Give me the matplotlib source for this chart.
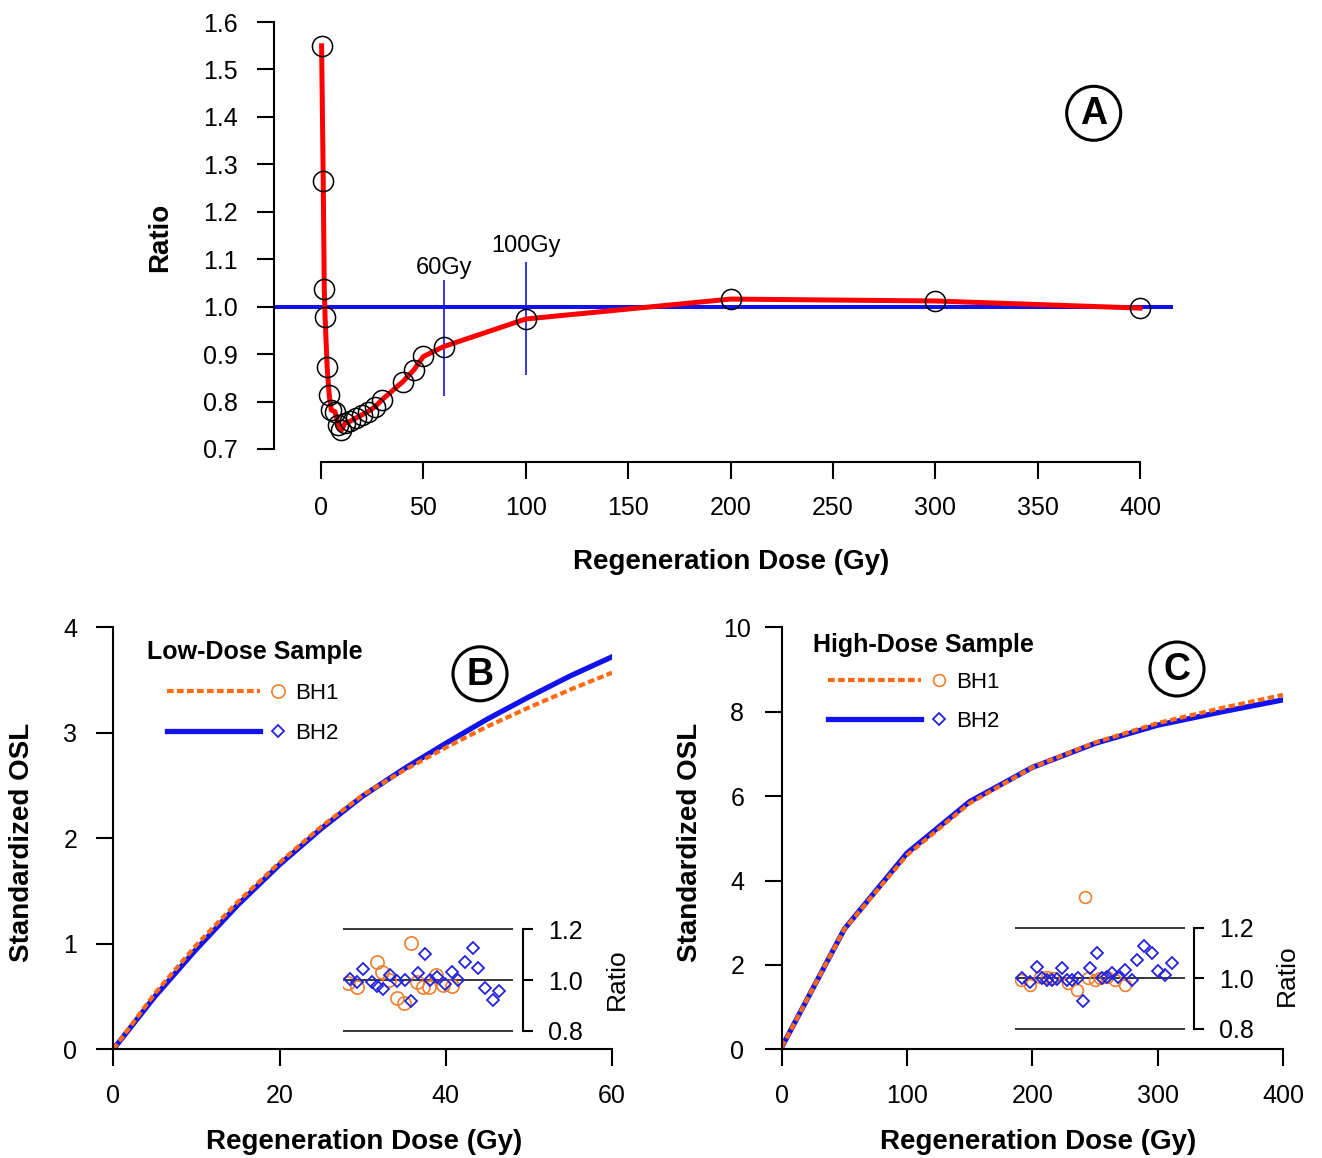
import matplotlib
matplotlib.use("Agg")
import matplotlib.pyplot as plt
from matplotlib import font_manager
from matplotlib.lines import Line2D
from matplotlib.patches import Circle
from matplotlib.legend_handler import HandlerBase

plt.rcParams['font.family'] = ['Liberation Sans', 'DejaVu Sans']

# dose labels in panel A use a condensed face when one is available
installed = {f.name for f in font_manager.fontManager.ttflist}
if 'Liberation Sans Narrow' in installed:
    GY_FONT = dict(family=['Liberation Sans Narrow', 'DejaVu Sans'], fontsize=20)
else:
    GY_FONT = dict(fontsize=17)

W, H = 1322, 1158

# Panel A: sensitivity ratio against regeneration dose
dose_a = [0.3, 1.1, 1.6, 2.0, 3.0, 4.0, 5.0, 6.8, 8.5, 10, 11.7, 14, 17, 20, 23,
          26.4, 29.6, 40, 45.4, 50, 60, 100, 200, 300, 400]
ratio_a = [1.550, 1.264, 1.037, 0.979, 0.873, 0.814, 0.782, 0.779, 0.751, 0.740,
           0.754, 0.758, 0.765, 0.772, 0.779, 0.789, 0.803, 0.842, 0.867, 0.895,
           0.916, 0.974, 1.016, 1.012, 0.997]
marker_doses = [60, 100]
marker_lo = [0.812, 0.856]
marker_hi = [1.056, 1.095]
marker_text_y = [1.082, 1.128]

# Panel B: low-dose sample growth curves
dose_b = [0, 5, 10, 15, 20, 25, 30, 35, 40, 45, 50, 55, 60]
osl_b1 = [0, 0.53, 0.99, 1.40, 1.77, 2.11, 2.41, 2.645, 2.86, 3.06, 3.24, 3.41, 3.57]
osl_b2 = [0, 0.50, 0.95, 1.37, 1.75, 2.09, 2.40, 2.66, 2.90, 3.13, 3.34, 3.54, 3.72]

# Panel C: high-dose sample growth curves
dose_c = [0, 50, 100, 150, 200, 250, 300, 350, 400]
osl_c1 = [0.05, 2.85, 4.60, 5.83, 6.68, 7.27, 7.73, 8.08, 8.40]
osl_c2 = [0.05, 2.85, 4.65, 5.87, 6.68, 7.25, 7.68, 7.99, 8.28]

# inset ratios (position along the inset, ratio)
b1_x = [3.1, 8.4, 19.8, 22.7, 27.3, 31.6, 35.9, 39.8, 43.7, 47.3, 50.8, 54.7, 59.0, 63.9]
b1_r = [0.989, 0.971, 1.073, 1.033, 1.000, 0.931, 0.909, 1.147, 0.993, 0.971,
        0.971, 1.020, 0.980, 0.976]
b2_x = [4.1, 8.0, 11.9, 16.9, 19.8, 23.3, 27.6, 31.6, 36.5, 39.8, 44.3, 48.2,
        51.2, 55.1, 60.0, 63.9, 67.8, 71.8, 76.3, 79.6, 83.5, 88.4, 92.0]
b2_r = [1.003, 0.993, 1.043, 0.993, 0.976, 0.963, 1.020, 0.997, 1.000, 0.917,
        1.027, 1.104, 1.000, 1.013, 0.984, 1.033, 1.000, 1.073, 1.127, 1.047,
        0.967, 0.920, 0.957]
c1_x = [3.3, 8.8, 14.7, 18.6, 22.5, 31.4, 36.3, 41.2, 43.1, 47.1, 50.0, 53.9, 58.8, 64.7]
c1_r = [0.993, 0.974, 1.007, 1.007, 1.000, 0.980, 0.954, 1.320, 1.000, 0.993,
        1.000, 1.007, 0.993, 0.974]
c2_x = [3.9, 8.8, 12.7, 15.7, 18.6, 21.6, 24.5, 27.5, 30.4, 33.3, 37.3, 40.2, 44.1,
        48.0, 51.0, 53.9, 56.9, 60.8, 64.7, 68.6, 71.6, 75.9, 80.4, 84.3, 88.2, 92.2]
c2_r = [1.000, 0.987, 1.043, 1.000, 0.993, 0.993, 0.996, 1.039, 0.993, 0.993,
        1.000, 0.912, 1.039, 1.101, 1.000, 1.004, 1.022, 1.004, 1.033, 0.993,
        1.072, 1.128, 1.101, 1.030, 1.013, 1.059]

RED = '#ff0000'
BLUE = '#1212ee'
ORANGE = '#ff6a13'
ORANGE_PT = '#ee7f2d'
BLUE_PT = '#2323dd'


def box(left, top, right, bottom):
    # pixel box -> figure fraction rect
    return [left / W, 1 - bottom / H, (right - left) / W, (bottom - top) / H]


def fpos(x, y):
    return x / W, 1 - y / H


class LineMarkerHandler(HandlerBase):
    # legend entry: long line sample followed by the point marker
    def create_artists(self, legend, orig_handle, xdescent, ydescent,
                       width, height, fontsize, trans):
        line, mark = orig_handle
        y = height / 2 - ydescent
        x0 = -xdescent
        seg = Line2D([x0, x0 + 0.79 * width], [y, y])
        seg.update_from(line)
        seg.set_marker('None')
        seg.set_transform(trans)
        pt = Line2D([x0 + 0.94 * width], [y], linestyle='None',
                    marker=mark.get_marker(), markersize=mark.get_markersize(),
                    markerfacecolor='none',
                    markeredgecolor=mark.get_markeredgecolor(),
                    markeredgewidth=mark.get_markeredgewidth(),
                    transform=trans)
        return [seg, pt]


def style_axes(ax):
    for s in ['top', 'right']:
        ax.spines[s].set_visible(False)
    for s in ['left', 'bottom']:
        ax.spines[s].set_linewidth(1.5)
    ax.tick_params(direction='out', length=12, width=1.5, labelsize=18)


def add_inset(rect, xmax, ylim, x1, r1, x2, r2, ms1):
    ax = fig.add_axes(rect)
    ax.patch.set_alpha(0)
    ax.set_xlim(0, xmax)
    ax.set_ylim(*ylim)
    ax.hlines([0.8, 1.0, 1.2], 0, 100, color='black', lw=1.1)
    for s in ['top', 'left', 'bottom']:
        ax.spines[s].set_visible(False)
    ax.spines['right'].set_bounds(0.8, 1.2)
    ax.spines['right'].set_linewidth(1.5)
    ax.yaxis.tick_right()
    ax.set_yticks([0.8, 1.0, 1.2])
    ax.set_yticklabels(['0.8', '1.0', '1.2'])
    ax.set_xticks([])
    ax.tick_params(axis='y', direction='out', length=7, width=1.5, labelsize=18, pad=11)
    p1, = ax.plot(x1, r1, ls='none', marker='o', ms=ms1, mfc='none',
                  mec=ORANGE_PT, mew=1.2)
    p2, = ax.plot(x2, r2, ls='none', marker='D', ms=6, mfc='none',
                  mec=BLUE_PT, mew=1.3)
    return p1, p2


def circled(x, y, letter):
    fig.add_artist(Circle((x / 100, (H - y) / 100), 0.27, fill=False, lw=2.2,
                          color='black', transform=fig.dpi_scale_trans))
    fig.text(*fpos(x, y + 1), letter, ha='center', va='center', fontsize=27,
             fontweight='bold')


fig = plt.figure(figsize=(W / 100, H / 100), dpi=100)

# ---- panel A ----
axA = fig.add_axes(box(274, 7.8, 1181, 461.7))
axA.set_xlim(-22.95, 420)
axA.set_ylim(0.6732, 1.63)
axA.hlines(1.0, -22.95, 416, color=BLUE, lw=2.9, zorder=2)
for d, lo, hi, ty in zip(marker_doses, marker_lo, marker_hi, marker_text_y):
    axA.vlines(d, lo, hi, color=BLUE, lw=1.2, zorder=2)
    axA.text(d, ty, f'{d}Gy', ha='center', va='center', **GY_FONT)
axA.plot(dose_a, ratio_a, color=RED, lw=3.6, zorder=3)
axA.plot(dose_a, ratio_a, ls='none', marker='o', ms=14.5, mfc='none',
         mec='black', mew=1.1, zorder=4)
style_axes(axA)
axA.spines['left'].set_bounds(0.7, 1.6)
axA.spines['bottom'].set_bounds(0, 400)
axA.set_xticks(range(0, 401, 50))
axA.set_yticks([0.7 + 0.1 * i for i in range(10)])
axA.set_yticklabels([f'{0.7 + 0.1 * i:.1f}' for i in range(10)])
axA.tick_params(axis='x', pad=12.5)
axA.tick_params(axis='y', pad=14)
fig.text(*fpos(731, 562), 'Regeneration Dose (Gy)', ha='center', va='center',
         fontsize=20, fontweight='bold')
fig.text(*fpos(160, 237), 'Ratio', ha='center', va='center', rotation=90,
         fontsize=20, fontweight='bold')
circled(1093.7, 113.3, 'A')

# ---- panel B ----
axB = fig.add_axes(box(113.3, 627.3, 612, 1049.3))
axB.set_xlim(0, 60)
axB.set_ylim(0, 4)
lb2, = axB.plot(dose_b, osl_b2, color=BLUE, lw=3.8)
lb1, = axB.plot(dose_b, osl_b1, color=ORANGE, lw=3.0, dashes=(1.6, 0.8))
style_axes(axB)
axB.set_xticks([0, 20, 40, 60])
axB.set_yticks([0, 1, 2, 3, 4])
axB.tick_params(axis='x', pad=13)
axB.tick_params(axis='y', pad=14)
pb1, pb2 = add_inset(box(343, 891.3, 522.7, 1043.4), 105.7, (0.75, 1.35),
                     b1_x, b1_r, b2_x, b2_r, 9.5)
fig.text(*fpos(616.7, 979), 'Ratio', ha='center', va='center', rotation=90, fontsize=19)
fig.text(*fpos(147, 652), 'Low-Dose Sample', ha='left', va='center',
         fontsize=18, fontweight='bold')
axB.legend([(lb1, pb1), (lb2, pb2)], ['BH1', 'BH2'],
           handler_map={tuple: LineMarkerHandler()},
           loc='upper left', bbox_to_anchor=fpos(167, 683),
           bbox_transform=fig.transFigure, frameon=False, borderpad=0,
           borderaxespad=0, handlelength=5.3, handletextpad=0.45,
           labelspacing=0.86, fontsize=16)
fig.text(*fpos(364, 1142), 'Regeneration Dose (Gy)', ha='center', va='center',
         fontsize=20, fontweight='bold')
fig.text(*fpos(22, 842), 'Standardized OSL', ha='center', va='center',
         rotation=90, fontsize=20, fontweight='bold')
circled(480, 673.8, 'B')

# ---- panel C ----
axC = fig.add_axes(box(781.7, 627.3, 1283, 1049.3))
axC.set_xlim(0, 400)
axC.set_ylim(0, 10)
lc2, = axC.plot(dose_c, osl_c2, color=BLUE, lw=3.8)
lc1, = axC.plot(dose_c, osl_c1, color=ORANGE, lw=3.0, dashes=(1.6, 0.8))
style_axes(axC)
axC.set_xticks([0, 100, 200, 300, 400])
axC.set_yticks([0, 2, 4, 6, 8, 10])
axC.tick_params(axis='x', pad=13)
axC.tick_params(axis='y', pad=20)
for lbl in axC.get_yticklabels():
    lbl.set_horizontalalignment('center')
pc1, pc2 = add_inset(box(1015, 882.2, 1194.3, 1041.5), 105.5, (0.75, 1.38),
                     c1_x, c1_r, c2_x, c2_r, 8.5)
fig.text(*fpos(1286.7, 975), 'Ratio', ha='center', va='center', rotation=90, fontsize=19)
fig.text(*fpos(813, 645), 'High-Dose Sample', ha='left', va='center',
         fontsize=18, fontweight='bold')
axC.legend([(lc1, pc1), (lc2, pc2)], ['BH1', 'BH2'],
           handler_map={tuple: LineMarkerHandler()},
           loc='upper left', bbox_to_anchor=fpos(828, 672),
           bbox_transform=fig.transFigure, frameon=False, borderpad=0,
           borderaxespad=0, handlelength=5.3, handletextpad=0.45,
           labelspacing=0.8, fontsize=16)
fig.text(*fpos(1038, 1142), 'Regeneration Dose (Gy)', ha='center', va='center',
         fontsize=20, fontweight='bold')
fig.text(*fpos(690, 842), 'Standardized OSL', ha='center', va='center',
         rotation=90, fontsize=20, fontweight='bold')
circled(1177, 669, 'C')

fig.savefig('out.png', dpi=100)
